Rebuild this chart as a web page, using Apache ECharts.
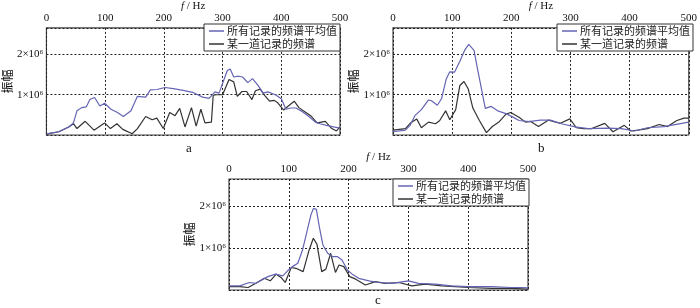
<!DOCTYPE html>
<html><head><meta charset="utf-8">
<script src="https://cdn.jsdelivr.net/npm/echarts@6/dist/echarts.min.js"></script>
<style>html,body{margin:0;padding:0;background:#fff}#c{width:700px;height:308px}</style>
</head><body><div id="c"></div>
<script>
// values in units of 10^6
const xTicks = [0, 100, 200, 300, 400, 500];
const yTickLabels = {1: '1×10⁶', 2: '2×10⁶'};
const seriesNames = ['所有记录的频谱平均值', '某一道记录的频谱'];
const panelLabels = ['a', 'b', 'c'];

// Panel a
const aAvgF = [0,21,38,46,52,60,68,74,82,91,99,110,121,131,144,155,169,177,188,202,216,233,249,266,277,287,294,308,313,319,327,334,343,351,361,369,377,390,400,408,416,425,436,447,458,466,477,489,500];
const aAvgV = [0.03,0.08,0.2,0.3,0.6,0.68,0.7,0.88,0.93,0.72,0.79,0.64,0.56,0.46,0.6,0.96,0.94,1.12,1.13,1.18,1.15,1.11,1.06,0.94,0.91,1.07,1.04,1.6,1.64,1.44,1.46,1.44,1.3,1.4,1.22,1.04,1.07,1.0,0.9,0.64,0.67,0.67,0.58,0.46,0.32,0.28,0.24,0.2,0.17];
const aOneF = [0,21,38,46,52,66,81,99,109,120,130,146,155,169,180,188,199,210,219,227,236,247,255,263,270,281,284,288,300,311,319,325,333,341,350,356,364,372,380,388,394,404,412,422,430,440,450,461,475,486,494,500];
const aOneV = [0.02,0.08,0.2,0.28,0.16,0.34,0.12,0.3,0.16,0.28,0.14,0.03,0.16,0.46,0.38,0.42,0.16,0.56,0.48,0.66,0.2,0.68,0.22,0.64,0.3,0.32,0.98,1.0,1.0,1.38,1.32,0.96,1.08,1.08,0.88,1.1,1.14,0.98,0.84,0.86,0.8,0.62,0.72,0.84,0.68,0.58,0.48,0.3,0.34,0.16,0.1,0.2];

// Panel b
const bAvgF = [0,21,29,37,48,60,65,75,82,90,96,104,113,121,128,137,143,149,156,166,177,191,202,213,230,249,266,285,308,330,363,386,408,430,458,500];
const bAvgV = [0.08,0.12,0.24,0.48,0.63,0.87,0.85,0.74,0.9,1.39,1.57,1.56,1.83,2.1,2.25,2.1,1.63,1.19,0.66,0.71,0.6,0.53,0.45,0.36,0.33,0.37,0.37,0.28,0.2,0.16,0.17,0.16,0.1,0.18,0.21,0.32];
const bOneF = [0,21,29,40,48,60,72,79,89,96,106,113,120,127,135,146,158,168,179,191,199,213,224,232,246,263,283,299,310,322,336,358,372,391,402,414,430,450,464,480,492,500];
const bOneV = [0.12,0.16,0.29,0.4,0.18,0.32,0.28,0.36,0.6,0.38,0.63,1.23,1.33,1.15,0.67,0.36,0.06,0.21,0.32,0.52,0.56,0.44,0.32,0.34,0.21,0.37,0.29,0.4,0.18,0.16,0.16,0.29,0.08,0.24,0.1,0.12,0.16,0.26,0.21,0.36,0.42,0.42];

// Panel c
const cAvgF = [0,18,34,45,65,78,90,98,106,115,123,131,137,141,146,151,157,165,173,181,189,198,206,217,234,250,273,300,317,345,372,400,439,472,489,500];
const cAvgV = [0.1,0.1,0.18,0.16,0.32,0.38,0.34,0.46,0.56,0.64,0.96,1.44,1.8,1.95,1.94,1.52,1.08,0.88,0.8,0.8,0.72,0.48,0.38,0.28,0.22,0.18,0.16,0.22,0.16,0.14,0.1,0.08,0.08,0.06,0.06,0.05];
const cOneF = [0,18,32,45,59,69,79,87,94,104,112,124,134,141,147,155,162,170,178,184,192,202,212,228,245,261,284,306,328,356,378,400,439,472,500];
const cOneV = [0.08,0.08,0.06,0.16,0.28,0.22,0.38,0.3,0.18,0.54,0.52,0.44,0.96,1.24,1.1,0.44,0.5,0.88,0.42,0.6,0.56,0.32,0.26,0.12,0.2,0.16,0.18,0.1,0.14,0.1,0.08,0.06,0.04,0.04,0.02];

const zip = (f, v) => f.map((x, i) => [x, v[i]]);
const avgColor = '#6464b4', oneColor = '#333333';
const serif = '"Liberation Serif", "Times New Roman", serif';
const cjk = '"Noto Sans CJK SC", sans-serif';

const grids = [
  {left: 41, top: 24, width: 299, height: 111},
  {left: 393, top: 24, width: 299, height: 111},
  {left: 229, top: 179, width: 299, height: 111}
];
const nameGaps = [23, 27, 26];
const legendPos = [{left: 204, top: 24}, {left: 557, top: 24}, {left: 393, top: 179}];
const labelPos = [{left: 186, top: 142}, {left: 538, top: 142}, {left: 375, top: 294}];
const data = [[aAvgF, aAvgV, aOneF, aOneV], [bAvgF, bAvgV, bOneF, bOneV], [cAvgF, cAvgV, cOneF, cOneV]];

const option = {
  animation: false,
  backgroundColor: '#fff',
  grid: grids.map(g => Object.assign({show: true, borderColor: '#444', borderWidth: 1.2, backgroundColor: 'transparent'}, g)),
  title: panelLabels.map((t, i) => ({text: t, left: labelPos[i].left, top: labelPos[i].top, padding: 0,
    textStyle: {fontFamily: serif, fontSize: 13, fontWeight: 'normal', color: '#111'}})),
  legend: legendPos.map((p, i) => ({
    data: seriesNames, orient: 'vertical', left: p.left, top: p.top,
    backgroundColor: '#fff', borderColor: '#333', borderWidth: 1, padding: [1, 3, 1, 5],
    itemGap: 1, itemWidth: 15, itemHeight: 1.5, icon: 'rect', itemStyle: {borderWidth: 0},
    textStyle: {fontFamily: cjk, fontSize: 11, color: '#222', lineHeight: 12, padding: [0,0,0,-2]},
    selectedMode: false, z: 10
  })),
  xAxis: grids.map((g, i) => ({
    type: 'value', gridIndex: i, position: 'top', min: 0, max: 500, interval: 100,
    name: '{i|f} / Hz', nameLocation: 'middle', nameGap: 14,
    nameTextStyle: {fontFamily: serif, fontSize: 11, color: '#111', rich: {i: {fontFamily: serif, fontStyle: 'italic', fontSize: 11, color: '#111'}}},
    axisLine: {show: false}, axisTick: {show: false},
    axisLabel: {fontFamily: serif, fontSize: 11, color: '#111', margin: 4},
    splitLine: {show: true, lineStyle: {color: '#222', type: [2, 2], width: 1}}
  })),
  yAxis: grids.map((g, i) => ({
    type: 'value', gridIndex: i, min: 0, max: 2.66, interval: 1,
    name: '振幅', nameLocation: 'middle', nameRotate: 90, nameGap: nameGaps[i],
    nameTextStyle: {fontFamily: cjk, fontSize: 12, color: '#111'},
    axisLine: {show: false}, axisTick: {show: false},
    axisLabel: {fontFamily: serif, fontSize: 11, color: '#111', margin: 3,
      formatter: v => yTickLabels[Math.round(v * 100) / 100] || ''},
    splitLine: {show: true, lineStyle: {color: '#222', type: [2, 2], width: 1}}
  })),
  series: []
};
data.forEach((d, i) => {
  option.series.push({name: seriesNames[0], type: 'line', xAxisIndex: i, yAxisIndex: i, data: zip(d[0], d[1]),
    showSymbol: false, symbol: 'none', lineStyle: {color: avgColor, width: 1.2}, itemStyle: {color: avgColor}, z: 3});
  option.series.push({name: seriesNames[1], type: 'line', xAxisIndex: i, yAxisIndex: i, data: zip(d[2], d[3]),
    showSymbol: false, symbol: 'none', lineStyle: {color: oneColor, width: 1.2}, itemStyle: {color: oneColor}, z: 2});
});
const chart = echarts.init(document.getElementById('c'), null, {renderer: 'canvas'});
chart.setOption(option);
</script></body></html>
